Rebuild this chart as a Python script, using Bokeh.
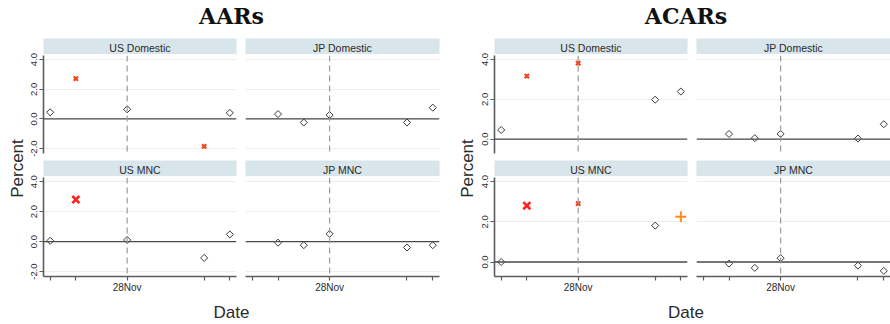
import math
from bokeh.plotting import figure
from bokeh.models import (Range1d, LinearAxis, FixedTicker, Span, Title,
                          NumeralTickFormatter)
from bokeh.layouts import row, column
from bokeh.embed import file_html
from bokeh.resources import INLINE

# ---------------- data ----------------
panel_names = ["US Domestic", "JP Domestic", "US MNC", "JP MNC"]
days_us = [-3, -2, 0, 3, 4]          # trading days relative to 28 Nov
days_jp = [-2, -1, 0, 3, 4]
x_ticks = [-3, -2, 0, 3, 4]
x_tick_labels = {-3: "", -2: "", 0: "28Nov", 3: "", 4: ""}

# AARs (percent); sig codes: n = none, s = small x, b = big X, p = plus
aar_us_dom = [0.45, 2.72, 0.65, -1.85, 0.41]
aar_us_dom_sig = ["n", "s", "n", "s", "n"]
aar_jp_dom = [0.33, -0.24, 0.26, -0.24, 0.76]
aar_jp_dom_sig = ["n", "n", "n", "n", "n"]
aar_us_mnc = [0.05, 2.81, 0.11, -1.09, 0.48]
aar_us_mnc_sig = ["n", "b", "n", "n", "n"]
aar_jp_mnc = [-0.07, -0.24, 0.52, -0.39, -0.24]
aar_jp_mnc_sig = ["n", "n", "n", "n", "n"]
aar_y_ticks = [-2, 0, 2, 4]

# ACARs (percent)
acar_us_dom = [0.46, 3.16, 3.82, 1.98, 2.39]
acar_us_dom_sig = ["n", "s", "s", "n", "n"]
acar_jp_dom = [0.26, 0.05, 0.26, 0.03, 0.75]
acar_jp_dom_sig = ["n", "n", "n", "n", "n"]
acar_us_mnc = [0.00, 2.80, 2.90, 1.81, 2.25]
acar_us_mnc_sig = ["n", "b", "s", "n", "p"]
acar_jp_mnc = [-0.08, -0.29, 0.19, -0.18, -0.44]
acar_jp_mnc_sig = ["n", "n", "n", "n", "n"]
acar_y_ticks = [0, 2, 4]

# ---------------- styling ----------------
SANS = "Liberation Sans"
STRIP = "#d8e5eb"
GRID = "#e8eff2"
AXIS = "#5c5c5c"
TEXT = "#2a2a2a"
X_RANGE = (-3.26, 4.26)
STYLE = {
    "n": dict(marker="square", angle=math.pi / 4, size=5, fill_color="white",
              line_color="#3a3a3a", line_width=1),
    "s": dict(marker="x", size=6, line_color="#f0461e", line_width=2.2),
    "b": dict(marker="x", size=10, line_color="#ff2020", line_width=2.6),
    "p": dict(marker="cross", size=11, line_color="#ff8a1e", line_width=2),
}


def make_panel(name, days, vals, sig, y_range, y_ticks, show_y, show_x,
               width, height, bl, br, bt, bb):
    p = figure(width=width, height=height, x_range=Range1d(*X_RANGE),
               y_range=Range1d(*y_range), x_axis_location=None,
               y_axis_location=None, toolbar_location=None,
               output_backend="svg", min_border_left=bl, min_border_right=br,
               min_border_top=bt, min_border_bottom=bb)
    p.outline_line_color = None
    p.background_fill_color = "white"
    p.border_fill_color = "white"
    p.xgrid.visible = False
    p.ygrid.ticker = FixedTicker(ticks=y_ticks)
    p.ygrid.grid_line_color = GRID
    p.ygrid.grid_line_width = 1

    # strip header
    strip = LinearAxis(axis_label=name, ticker=FixedTicker(ticks=[]),
                       major_tick_out=0, major_tick_in=0, minor_tick_out=0,
                       minor_tick_in=0, major_label_standoff=0,
                       axis_label_standoff=2, axis_line_color="white",
                       axis_line_width=3, axis_label_text_font=SANS,
                       axis_label_text_font_size="10.5px",
                       axis_label_text_font_style="normal",
                       axis_label_text_color=TEXT,
                       background_fill_color=STRIP)
    p.add_layout(strip, "above")

    if show_y:
        ya = LinearAxis(ticker=FixedTicker(ticks=y_ticks),
                        formatter=NumeralTickFormatter(format="0.0"),
                        major_label_orientation="vertical",
                        major_label_text_font=SANS,
                        major_label_text_font_size="9.5px",
                        major_label_text_color=TEXT,
                        major_label_standoff=2, major_tick_out=4,
                        major_tick_in=0, minor_tick_out=0, minor_tick_in=0,
                        axis_line_color=AXIS, axis_line_width=1.6,
                        major_tick_line_color=AXIS, major_tick_line_width=1.2)
        p.add_layout(ya, "left")
    if show_x:
        xa = LinearAxis(ticker=FixedTicker(ticks=x_ticks),
                        major_label_overrides=x_tick_labels,
                        major_label_text_font=SANS,
                        major_label_text_font_size="10px",
                        major_label_text_color=TEXT,
                        major_label_standoff=1, major_tick_out=4,
                        major_tick_in=0, minor_tick_out=0, minor_tick_in=0,
                        axis_line_color=AXIS, axis_line_width=1.6,
                        major_tick_line_color=AXIS, major_tick_line_width=1.2)
        p.add_layout(xa, "below")

    p.add_layout(Span(location=0, dimension="width", line_color="#4a4a4a",
                      line_width=1.3))
    p.add_layout(Span(location=0, dimension="height", line_color="#9a9a9a",
                      line_width=1.2, line_dash="6 4"))

    for code in ["n", "s", "b", "p"]:
        xs = [d for d, c in zip(days, sig) if c == code]
        ys = [v for v, c in zip(vals, sig) if c == code]
        if xs:
            p.scatter(x=xs, y=ys, **STYLE[code])
    return p


def blank(width, height, **kw):
    f = figure(width=width, height=height, toolbar_location=None,
               output_backend="svg", x_axis_location=None,
               y_axis_location=None, **kw)
    f.grid.visible = False
    f.outline_line_color = None
    f.border_fill_color = "white"
    f.background_fill_color = "white"
    return f


def make_side(title, series, y_range, y_ticks, side_w, w1, bl1, w2, br2,
              tl, dl):
    top_h, bot_h = 122, 138
    us_d, jp_d, us_m, jp_m = series
    a1 = make_panel(panel_names[0], days_us, us_d[0], us_d[1], y_range, y_ticks,
                    True, False, w1, top_h, bl1, 9, 14, 7)
    a2 = make_panel(panel_names[1], days_jp, jp_d[0], jp_d[1], y_range, y_ticks,
                    False, False, w2, top_h, 0, br2, 14, 7)
    b1 = make_panel(panel_names[2], days_us, us_m[0], us_m[1], y_range, y_ticks,
                    True, True, w1, bot_h, bl1, 9, 15, 22)
    b2 = make_panel(panel_names[3], days_jp, jp_m[0], jp_m[1], y_range, y_ticks,
                    False, True, w2, bot_h, 0, br2, 15, 22)

    pf = blank(27, top_h + bot_h, min_border_left=26, min_border_right=0,
               min_border_top=0, min_border_bottom=0)
    pf.add_layout(Title(text="Percent", align="center", text_font=SANS,
                        text_font_size="17px", text_font_style="normal",
                        text_color=TEXT, standoff=0, offset=0), "left")

    tf = blank(side_w, 38, min_border_left=tl, min_border_right=0,
               min_border_top=0, min_border_bottom=0)
    tf.title.text = title
    tf.title.align = "center"
    tf.title.text_font = "DejaVu Serif"
    tf.title.text_font_size = "22px"
    tf.title.text_font_style = "bold"
    tf.title.text_color = "#111111"
    tf.title.standoff = 0
    tf.title.offset = 0

    df = blank(side_w, 24, min_border_left=dl, min_border_right=0,
               min_border_top=23, min_border_bottom=0)
    df.add_layout(Title(text="Date", align="center", text_font=SANS,
                        text_font_size="17px", text_font_style="normal",
                        text_color=TEXT, standoff=0, offset=0), "above")

    grid = column(row(a1, a2), row(b1, b2))
    return column(tf, row(pf, grid), df)


left = make_side("AARs",
                 [(aar_us_dom, aar_us_dom_sig), (aar_jp_dom, aar_jp_dom_sig),
                  (aar_us_mnc, aar_us_mnc_sig), (aar_jp_mnc, aar_jp_mnc_sig)],
                 (-2.33, 4.28), aar_y_ticks, 450, 218, 16, 205, 11, 12, 11)
right = make_side("ACARs",
                  [(acar_us_dom, acar_us_dom_sig), (acar_jp_dom, acar_jp_dom_sig),
                   (acar_us_mnc, acar_us_mnc_sig), (acar_jp_mnc, acar_jp_mnc_sig)],
                  (-0.72, 4.2), acar_y_ticks, 440, 219, 17, 194, 0, 31, 24)

layout = row(left, right)
open("out.html", "w").write(file_html(layout, INLINE))
